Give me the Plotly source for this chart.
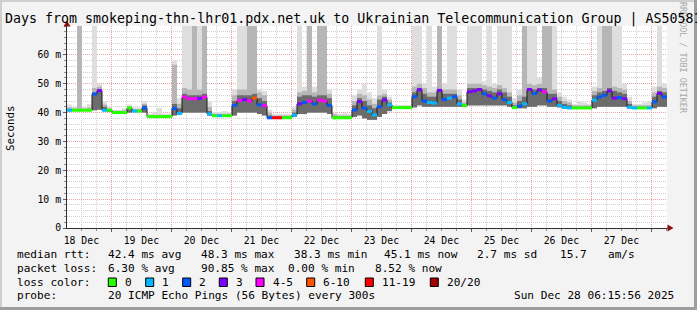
import plotly.graph_objects as go
import pandas as pd

# ---------------- data ----------------
START = pd.Timestamp("2025-12-18 06:15:56")
END = pd.Timestamp("2025-12-28 06:15:56")
BIN_HOURS = 2

median_ms = [40.8, 40.8, 40.8, 40.8, 40.8, 46.4, 47.6, 40.8, 40.8, 40.0,
             40.0, 40.0, 41.6, 40.5, 40.5, 41.6, 38.6, 38.6, 38.6, 38.6,
             38.6, 41.4, 39.7, 45.4, 44.8, 44.8, 44.9, 45.4, 39.5, 38.9,
             38.9, 38.9, 38.9, 42.5, 44.2, 44.5, 44.0, 45.0, 42.7, 42.4,
             38.2, 38.2, 38.2, 38.2, 38.2, 39.1, 43.0, 43.5, 44.0, 43.0,
             44.3, 44.0, 42.5, 38.2, 38.2, 38.2, 38.2, 40.9, 43.8, 41.5,
             40.4, 39.2, 42.0, 44.4, 42.7, 41.7, 41.7, 41.7, 41.7, 45.5,
             47.9, 44.0, 43.5, 43.3, 47.7, 44.5, 45.0, 45.5, 43.0, 42.4,
             47.2, 47.5, 48.0, 46.5, 45.8, 45.0, 46.5, 44.5, 43.5, 41.7,
             42.2, 43.0, 48.0, 46.6, 47.8, 47.2, 44.0, 44.8, 42.5, 41.8,
             41.6, 41.6, 41.6, 41.6, 41.6, 44.3, 45.4, 46.0, 47.5, 45.0,
             45.2, 44.8, 41.8, 41.6, 41.6, 41.6, 41.6, 43.7, 46.6, 45.4]

loss_pings = [1, 0, 0, 0, 0, 2, 3, 1, 0, 0,
              0, 0, 0, 1, 0, 2, 0, 0, 0, 0,
              0, 2, 1, 4, 4, 4, 3, 4, 1, 0,
              1, 0, 0, 2, 4, 3, 4, 7, 2, 4,
              2, 18, 14, 0, 0, 1, 3, 2, 4, 2,
              4, 4, 2, 0, 0, 0, 0, 2, 3, 2,
              1, 1, 2, 3, 1, 0, 0, 0, 0, 2,
              3, 2, 1, 1, 3, 2, 1, 2, 1, 0,
              3, 3, 3, 2, 3, 2, 3, 2, 1, 0,
              2, 1, 3, 2, 3, 4, 2, 3, 1, 1,
              1, 0, 0, 0, 0, 1, 2, 2, 3, 3,
              2, 3, 1, 1, 0, 0, 1, 2, 3, 2]

smoke_lo = [40.5, 40.6, 40.6, 40.6, 40.6, 40.8, 41.0, 40.6, 40.5, 39.8,
            39.8, 39.8, 40.0, 40.2, 40.2, 40.0, 38.4, 38.4, 38.4, 38.4,
            38.4, 39.0, 39.3, 40.0, 40.0, 40.0, 40.0, 40.0, 39.0, 38.6,
            38.6, 38.6, 38.6, 39.0, 40.0, 40.0, 40.0, 40.0, 39.5, 39.0,
            38.0, 38.0, 38.0, 38.0, 38.0, 38.5, 39.5, 39.5, 40.0, 40.0,
            40.0, 40.0, 39.5, 38.0, 38.0, 38.0, 38.0, 38.5, 39.0, 38.0,
            37.5, 37.5, 38.5, 39.5, 40.5, 41.5, 41.5, 41.5, 41.5, 41.8,
            42.5, 42.0, 42.0, 42.0, 42.0, 42.0, 42.0, 42.0, 42.0, 42.0,
            42.5, 42.5, 42.5, 42.5, 42.5, 42.5, 42.5, 42.5, 42.0, 41.5,
            41.5, 41.5, 42.0, 42.0, 42.5, 42.5, 42.0, 42.0, 41.8, 41.5,
            41.4, 41.4, 41.4, 41.4, 41.4, 41.5, 42.0, 42.0, 42.0, 42.0,
            42.0, 42.0, 41.5, 41.4, 41.4, 41.4, 41.4, 41.5, 42.0, 42.0]

smoke_dark_hi = [41.2, 41.0, 41.2, 41.0, 41.2, 47.0, 48.0, 42.0, 41.0, 40.3,
                 40.3, 40.3, 41.8, 40.8, 40.8, 42.5, 38.8, 38.8, 38.8, 38.8,
                 38.8, 43.0, 41.5, 46.5, 46.0, 46.0, 46.0, 46.5, 40.5, 39.2,
                 39.2, 39.2, 39.2, 44.0, 46.0, 46.0, 46.0, 46.5, 45.0, 44.0,
                 39.0, 38.6, 38.6, 38.6, 38.6, 40.0, 45.5, 46.0, 46.0, 45.5,
                 46.0, 46.0, 45.0, 38.8, 38.6, 38.6, 38.6, 42.5, 45.0, 44.0,
                 42.5, 41.5, 44.5, 45.5, 43.5, 42.0, 42.0, 42.0, 42.0, 47.0,
                 48.5, 46.5, 45.5, 45.5, 48.0, 46.5, 46.5, 46.5, 44.5, 43.0,
                 48.5, 48.5, 48.5, 48.0, 47.5, 47.0, 48.0, 47.0, 45.5, 42.5,
                 44.0, 45.5, 48.5, 48.0, 48.5, 48.5, 46.5, 46.5, 44.0, 43.0,
                 42.5, 42.0, 42.0, 42.0, 42.0, 46.0, 47.0, 47.5, 48.5, 47.5,
                 47.0, 46.5, 43.0, 42.0, 42.0, 42.0, 42.0, 45.5, 47.5, 47.0]

smoke_mid_hi = [41.8, 41.5, 70.0, 41.4, 41.8, 48.5, 49.0, 42.8, 41.5, 40.6,
                40.6, 40.8, 42.2, 41.2, 41.2, 43.0, 39.2, 39.2, 39.2, 39.2,
                39.2, 56.6, 43.0, 48.5, 48.0, 70.0, 48.0, 70.0, 42.0, 39.6,
                39.6, 39.6, 39.6, 46.0, 48.0, 48.0, 70.0, 70.0, 47.0, 46.0,
                40.0, 39.0, 39.0, 39.0, 39.0, 41.0, 47.0, 47.5, 70.0, 47.0,
                70.0, 70.0, 46.5, 39.5, 39.0, 39.0, 39.0, 44.0, 46.5, 46.0,
                44.5, 43.0, 46.0, 46.5, 44.5, 42.3, 42.3, 42.3, 42.3, 49.0,
                50.0, 48.5, 47.0, 47.0, 70.0, 48.0, 48.0, 48.0, 46.0, 43.5,
                50.0, 50.0, 50.0, 49.5, 49.0, 48.5, 49.5, 48.5, 47.0, 43.5,
                46.0, 70.0, 50.0, 49.5, 50.0, 70.0, 70.0, 48.0, 45.5, 44.0,
                43.5, 42.5, 42.5, 42.5, 42.5, 47.5, 48.5, 70.0, 70.0, 49.0,
                48.5, 48.0, 44.0, 42.5, 42.5, 42.5, 42.5, 47.0, 49.0, 48.5]

smoke_light_hi = [42.8, 42.0, 70.0, 42.0, 43.0, 70.0, 50.0, 44.0, 42.0, 41.0,
                  41.0, 41.5, 42.8, 41.8, 41.8, 44.0, 39.6, 40.0, 41.6, 39.6,
                  39.6, 58.0, 45.0, 70.0, 70.0, 70.0, 70.0, 70.0, 44.0, 40.2,
                  40.2, 40.5, 40.2, 48.0, 70.0, 70.0, 70.0, 70.0, 48.0, 47.5,
                  41.0, 39.5, 39.5, 39.5, 39.5, 42.0, 70.0, 49.0, 70.0, 49.0,
                  70.0, 70.0, 48.0, 40.0, 39.5, 40.0, 39.5, 46.0, 48.0, 50.0,
                  47.0, 45.0, 70.0, 48.0, 45.5, 42.6, 42.6, 42.6, 42.6, 70.0,
                  70.0, 50.0, 70.0, 49.0, 70.0, 50.0, 70.0, 70.0, 48.0, 44.5,
                  70.0, 70.0, 70.0, 51.0, 70.0, 50.0, 70.0, 70.0, 70.0, 45.0,
                  48.0, 70.0, 70.0, 70.0, 52.0, 70.0, 70.0, 70.0, 47.0, 45.5,
                  44.5, 43.0, 44.0, 43.5, 43.0, 49.0, 70.0, 70.0, 70.0, 70.0,
                  70.0, 50.0, 45.5, 43.0, 43.0, 43.5, 44.0, 49.0, 70.0, 50.0]

loss_labels = ["0", "1", "2", "3", "4-5", "6-10", "11-19", "20/20"]
loss_upper = [0, 1, 2, 3, 5, 10, 19, 20]
loss_colors = ["#26ff00", "#00b8ff", "#0059ff", "#7e00ff", "#ff00ff",
               "#ff5500", "#ff0000", "#a00000"]

y_tick_vals = [0, 10, 20, 30, 40, 50, 60]
y_tick_text = ["0", "10 m", "20 m", "30 m", "40 m", "50 m", "60 m"]

title_text = ("Days from smokeping-thn-lhr01.pdx.net.uk to "
              "Ukrainian Telecommunication Group | AS50581")
rtt_stats = [("median rtt:", 16), ("42.4 ms avg", 107), ("48.3 ms max", 200),
             ("38.3 ms min", 293.3), ("45.1 ms now", 383.3), ("2.7 ms sd", 476),
             ("15.7", 559), ("am/s", 607.3)]
loss_stats = [("packet loss:", 16), ("6.30 % avg", 107.3), ("90.85 % max", 200),
              ("0.00 % min", 286.7), ("8.52 % now", 374)]
probe_text = "20 ICMP Echo Pings (56 Bytes) every 300s"
stamp_text = "Sun Dec 28 06:15:56 2025"

# ---------------- layout helpers ----------------
W, H = 697, 310
PL, PR, PT, PB = 67, 667, 26, 228
MONO = "DejaVu Sans Mono"


def px(x):
    return (x - PL) / (PR - PL)


def py(y):
    return (PB - y) / (PB - PT)


n = len(median_ms)
bin_ms = BIN_HOURS * 3600 * 1000
starts = [START + pd.Timedelta(hours=BIN_HOURS * k) for k in range(n)]
ends = [s + pd.Timedelta(hours=BIN_HOURS) for s in starts]
centers = [s + pd.Timedelta(hours=BIN_HOURS / 2) for s in starts]

fig = go.Figure()

# smoke layers
for hi, col in [(smoke_light_hi, "#dedede"), (smoke_mid_hi, "#b6b6b6"),
                (smoke_dark_hi, "#6c6c6c")]:
    fig.add_trace(go.Bar(
        x=centers, base=smoke_lo, y=[h - l for h, l in zip(hi, smoke_lo)],
        width=bin_ms, marker=dict(color=col, line=dict(width=0)),
        showlegend=False, hoverinfo="skip"))

# median step line
fig.add_trace(go.Scatter(
    x=starts + [END], y=median_ms + [median_ms[-1]], mode="lines",
    line=dict(color="#1a1a1a", width=1, shape="hv"),
    showlegend=False, hoverinfo="skip"))


def loss_class(p):
    for i, u in enumerate(loss_upper):
        if p <= u:
            return i
    return len(loss_upper) - 1


for ci, col in enumerate(loss_colors):
    xs, ys = [], []
    for k in range(n):
        if loss_class(loss_pings[k]) == ci:
            xs += [starts[k], ends[k], None]
            ys += [median_ms[k], median_ms[k], None]
    if xs:
        fig.add_trace(go.Scatter(x=xs, y=ys, mode="lines",
                                 line=dict(color=col, width=3),
                                 showlegend=False, hoverinfo="skip"))

RED_GRID = "#e9a3a3"
GRAY_GRID = "#cfcfcf"
DASH = "1px,1px"

fig.update_layout(
    width=W, height=H,
    margin=dict(l=PL, r=W - PR, t=PT, b=H - PB),
    paper_bgcolor="#f3f3f3", plot_bgcolor="#ffffff",
    barmode="overlay", showlegend=False,
    font=dict(family=MONO, color="#000000"),
    xaxis=dict(
        type="date", range=[START, END], tickmode="linear",
        tick0="2025-12-18", dtick=86400000, ticklabelmode="period",
        tickformat="%d %b", tickfont=dict(family=MONO, size=9.8, color="#000"),
        showgrid=True, gridcolor=RED_GRID, griddash=DASH, gridwidth=1,
        ticks="outside", ticklen=3, tickcolor="#606060",
        showline=True, linecolor="#303030", linewidth=1, zeroline=False,
        minor=dict(dtick=6 * 3600 * 1000, tick0="2025-12-18", showgrid=True,
                   gridcolor=GRAY_GRID, griddash=DASH, ticks="outside",
                   ticklen=2, tickcolor="#909090"),
    ),
    yaxis=dict(
        range=[0, 70], tickmode="array", tickvals=y_tick_vals,
        ticktext=y_tick_text, tickfont=dict(family=MONO, size=9.8, color="#000"),
        showgrid=True, gridcolor=RED_GRID, griddash=DASH, gridwidth=1,
        ticks="outside", ticklen=3, tickcolor="#606060",
        showline=True, linecolor="#303030", linewidth=1, zeroline=False,
        minor=dict(dtick=2, tick0=0, showgrid=True, gridcolor=GRAY_GRID,
                   griddash=DASH, ticks="outside", ticklen=2,
                   tickcolor="#909090"),
    ),
)

shapes = []
annotations = []

# frame (3D shade)
shapes.append(dict(type="rect", xref="paper", yref="paper", x0=px(0), x1=px(2),
                   y0=py(H), y1=py(0), fillcolor="#cfcfcf", line=dict(width=0), layer="above"))
shapes.append(dict(type="rect", xref="paper", yref="paper", x0=px(0), x1=px(W),
                   y0=py(2), y1=py(0), fillcolor="#cfcfcf", line=dict(width=0), layer="above"))
shapes.append(dict(type="rect", xref="paper", yref="paper", x0=px(W - 3), x1=px(W),
                   y0=py(H), y1=py(0), fillcolor="#9e9e9e", line=dict(width=0), layer="above"))
shapes.append(dict(type="rect", xref="paper", yref="paper", x0=px(0), x1=px(W),
                   y0=py(H), y1=py(H - 3), fillcolor="#9e9e9e", line=dict(width=0), layer="above"))

# axis extensions and arrows
ARROW = "#8b1010"
shapes.append(dict(type="line", xref="paper", yref="paper", x0=px(PL), x1=px(PL),
                   y0=py(PT), y1=py(22), line=dict(color="#303030", width=1)))
shapes.append(dict(type="line", xref="paper", yref="paper", x0=px(PR), x1=px(669),
                   y0=py(PB), y1=py(PB), line=dict(color="#303030", width=1)))
shapes.append(dict(type="path", xref="paper", yref="paper",
                   path=f"M {px(PL - 3.5)} {py(26.5)} L {px(PL + 3.5)} {py(26.5)} L {px(PL)} {py(20.5)} Z",
                   fillcolor=ARROW, line=dict(width=0)))
shapes.append(dict(type="path", xref="paper", yref="paper",
                   path=f"M {px(667.5)} {py(PB - 3.5)} L {px(667.5)} {py(PB + 3.5)} L {px(673.5)} {py(PB)} Z",
                   fillcolor=ARROW, line=dict(width=0)))


def text(t, x, y, size=11.1, color="#000", anchor="left", angle=0):
    annotations.append(dict(text=t, x=px(x), y=py(y), xref="paper", yref="paper",
                            xanchor=anchor, yanchor="middle", showarrow=False,
                            borderpad=0, textangle=angle,
                            font=dict(family=MONO, size=size, color=color)))


text("RRDTOOL / TOBI OETIKER", 683, 58, size=8.4, color="#a8a8a8", anchor="center", angle=90)
text(title_text, 4, 19.5, size=13.3)
text("Seconds", 10, 128, size=10.8, anchor="center", angle=-90)

for t, x in rtt_stats:
    text(t, x, 254.6)
for t, x in loss_stats:
    text(t, x, 268.3)
text("loss color:", 16, 282.3)
box_lefts = [108.3, 145.7, 182.7, 219.3, 256, 306.7, 365.3, 430.3]
for lab, col, bx in zip(loss_labels, loss_colors, box_lefts):
    shapes.append(dict(type="rect", xref="paper", yref="paper",
                       x0=px(bx), x1=px(bx + 8), y0=py(286.5), y1=py(278),
                       fillcolor=col, line=dict(color="#000", width=1)))
    text(lab, bx + 15.5, 282.3)
text("probe:", 16, 295.8)
text(probe_text, 106.7, 295.8)
text(stamp_text, 513.3, 295.8)

fig.update_layout(shapes=shapes, annotations=annotations)
fig.write_html("out.html")
